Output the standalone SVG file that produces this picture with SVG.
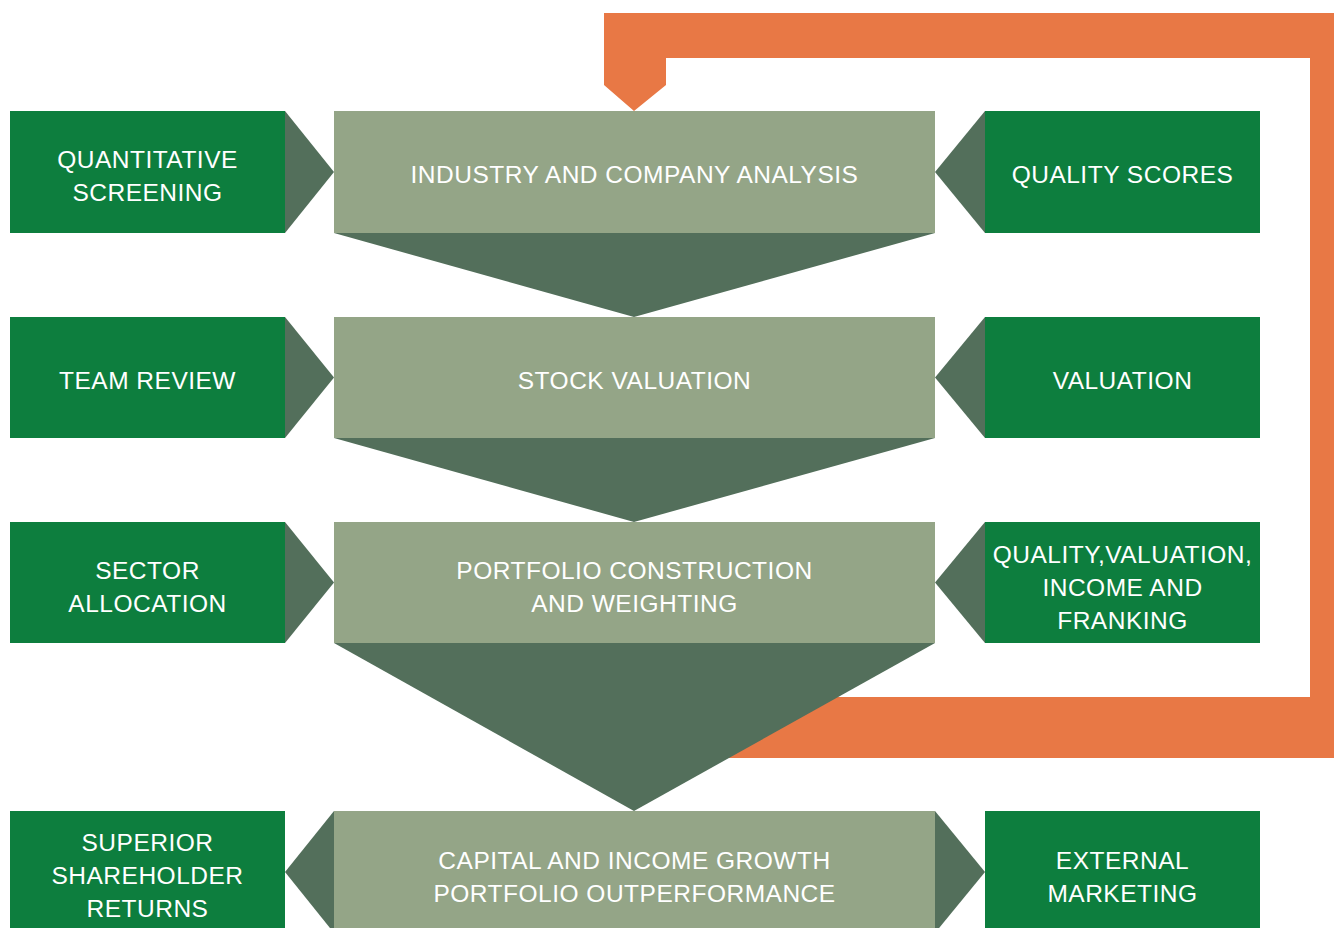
<svg xmlns="http://www.w3.org/2000/svg" width="1334" height="928" viewBox="0 0 1334 928">
<style>
.g{fill:#0d7e3e}
.d{fill:#536f5b}
.l{fill:#94a587}
.o{fill:#e87845}
text{font-family:"Liberation Sans",Arial,sans-serif;font-size:24.5px;letter-spacing:0.5px;fill:#ffffff;text-anchor:middle}
</style>
<rect width="1334" height="928" fill="#ffffff"/>
<g id="connectors">
<path class="o" d="M604,13 H1334 V758 H700 V697 H1310 V58 H666 V85 L634,111 L604,85 Z"/>
</g>
<g id="funnel">
<polygon class="d" points="334,233 935,233 634,317"/>
<polygon class="d" points="334,438 935,438 634,522"/>
<polygon class="d" points="334,643 935,643 634,811"/>
</g>
<g id="n-industry"><rect class="l" x="334" y="111" width="601" height="122"/><text x="634.5" y="182.5">INDUSTRY AND COMPANY ANALYSIS</text></g>
<g id="n-stock"><rect class="l" x="334" y="317" width="601" height="121"/><text x="634.5" y="388.5">STOCK VALUATION</text></g>
<g id="n-portfolio"><rect class="l" x="334" y="522" width="601" height="121"/><text x="634.5" y="578.5">PORTFOLIO CONSTRUCTION</text><text x="634.5" y="611.5">AND WEIGHTING</text></g>
<g id="n-capital"><rect class="l" x="334" y="811" width="601" height="122"/><text x="634.5" y="868.5">CAPITAL AND INCOME GROWTH</text><text x="634.5" y="901.5">PORTFOLIO OUTPERFORMANCE</text></g>
<g id="n-quant"><rect class="g" x="10" y="111" width="275" height="122"/><polygon class="d" points="285,111 334,172 285,233"/><text x="147.5" y="167.5">QUANTITATIVE</text><text x="147.5" y="200.5">SCREENING</text></g>
<g id="n-team"><rect class="g" x="10" y="317" width="275" height="121"/><polygon class="d" points="285,317 334,377.5 285,438"/><text x="147.5" y="388.5">TEAM REVIEW</text></g>
<g id="n-sector"><rect class="g" x="10" y="522" width="275" height="121"/><polygon class="d" points="285,522 334,582.5 285,643"/><text x="147.5" y="578.5">SECTOR</text><text x="147.5" y="611.5">ALLOCATION</text></g>
<g id="n-superior"><rect class="g" x="10" y="811" width="275" height="122"/><polygon class="d" points="334,811 285,872 334,933"/><text x="147.5" y="850.5">SUPERIOR</text><text x="147.5" y="883.5">SHAREHOLDER</text><text x="147.5" y="916.5">RETURNS</text></g>
<g id="n-quality"><rect class="g" x="985" y="111" width="275" height="122"/><polygon class="d" points="985,111 935,172 985,233"/><text x="1122.5" y="182.5">QUALITY SCORES</text></g>
<g id="n-valuation"><rect class="g" x="985" y="317" width="275" height="121"/><polygon class="d" points="985,317 935,377.5 985,438"/><text x="1122.5" y="388.5">VALUATION</text></g>
<g id="n-qvif"><rect class="g" x="985" y="522" width="275" height="121"/><polygon class="d" points="985,522 935,582.5 985,643"/><text x="1122.5" y="562.5">QUALITY,VALUATION,</text><text x="1122.5" y="595.5">INCOME AND</text><text x="1122.5" y="628.5">FRANKING</text></g>
<g id="n-external"><rect class="g" x="985" y="811" width="275" height="122"/><polygon class="d" points="935,811 985,872 935,933"/><text x="1122.5" y="868.5">EXTERNAL</text><text x="1122.5" y="901.5">MARKETING</text></g>
</svg>
